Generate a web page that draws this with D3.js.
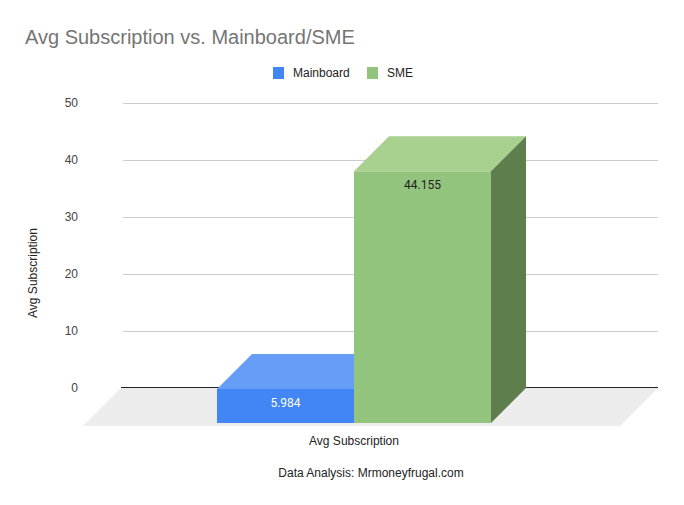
<!DOCTYPE html>
<html>
<head>
<meta charset="utf-8">
<script src="https://cdn.jsdelivr.net/npm/d3@7"></script>
<style>
  body { margin: 0; background: #fff; }
  svg text { font-family: "Liberation Sans", Arial, sans-serif; }
</style>
</head>
<body>
<div id="chart"></div>
<script>
// data
var categories = ["Avg Subscription"]
var seriesNames = ["Mainboard", "SME"]
var seriesValues = [5.984, 44.155]
var yTicks = [0, 10, 20, 30, 40, 50]

var frontColors = ["#4285f4", "#93c47d"]
var topColors = ["#669df6", "#a8d08f"]
var sideColors = ["#3367c7", "#5e7e4d"]
var labelColors = ["#ffffff", "#222222"]

var width = 684, height = 505
var depth = 35
var wall = { left: 123, right: 658, top: 103, bottom: 388 }

var svg = d3.select("#chart")
  .append("svg")
  .attr("width", width)
  .attr("height", height)

// title
svg.append("text")
  .attr("x", 25)
  .attr("y", 44)
  .style("font-size", "20px")
  .style("fill", "#757575")
  .text("Avg Subscription vs. Mainboard/SME")

// legend
var legend = svg.append("g").attr("class", "legend")
var legendX = [273, 367]
seriesNames.forEach(function(name, i) {
  legend.append("rect")
    .attr("x", legendX[i])
    .attr("y", 67)
    .attr("width", 11)
    .attr("height", 12)
    .style("fill", frontColors[i])
  legend.append("text")
    .attr("x", legendX[i] + 20)
    .attr("y", 77)
    .style("font-size", "12px")
    .style("fill", "#222")
    .text(name)
})

// scales (back wall plane)
var yScale = d3.scaleLinear()
  .domain([0, 50])
  .range([wall.bottom, wall.top])

var x0 = d3.scaleBand()
  .domain(categories)
  .range([wall.left - 2, wall.right - 1])
  .paddingOuter(0.478)
  .paddingInner(0)

var x1 = d3.scaleBand()
  .domain(seriesNames)
  .range([0, x0.bandwidth()])
  .padding(0)

// floor
var y0 = yScale(0)
svg.append("polygon")
  .attr("points", [
    [wall.left - 2, y0],
    [wall.right, y0],
    [wall.right - depth - 3, y0 + depth + 3],
    [wall.left - 2 - depth - 3, y0 + depth + 3]
  ].map(p => p.join(",")).join(" "))
  .style("fill", "#ececec")

// grid
var yGrid = d3.axisLeft(yScale)
  .tickValues(yTicks.filter(d => d !== 0))
  .tickSize(-(wall.right - wall.left))
  .tickFormat("")

svg.append("g")
  .attr("class", "grid")
  .attr("transform", `translate(${wall.left},0)`)
  .call(yGrid)
  .call(g => g.select(".domain").remove())
  .selectAll("line")
  .style("stroke", "#cccccc")

// zero line
svg.append("line")
  .attr("x1", wall.left - 2)
  .attr("x2", wall.right)
  .attr("y1", y0 - 0.5)
  .attr("y2", y0 - 0.5)
  .style("stroke", "#222")
  .style("stroke-width", 1)

// y tick labels
var yAxis = d3.axisLeft(yScale)
  .tickValues(yTicks)
  .tickSize(0)
  .tickPadding(0)

svg.append("g")
  .attr("class", "y-axis")
  .attr("transform", "translate(78,0)")
  .call(yAxis)
  .call(g => g.select(".domain").remove())
  .selectAll("text")
  .style("font-family", "'Liberation Sans', Arial, sans-serif")
  .style("font-size", "12px")
  .style("fill", "#444")

// bars
var bars = svg.append("g").attr("class", "bars")
seriesNames.forEach(function(name, i) {
  var v = seriesValues[i]
  var bx = x0(categories[0]) + x1(name)
  var w = x1.bandwidth()
  var ty = yScale(v)
  var pts = a => a.map(p => p.join(",")).join(" ")

  bars.append("rect")
    .attr("x", bx - depth)
    .attr("y", ty + depth)
    .attr("width", w)
    .attr("height", y0 - ty)
    .style("fill", frontColors[i])

  bars.append("polygon")
    .attr("points", pts([[bx - depth, ty + depth], [bx - depth + w, ty + depth], [bx + w, ty], [bx, ty]]))
    .style("fill", topColors[i])

  bars.append("polygon")
    .attr("points", pts([[bx + w - depth, ty + depth], [bx + w, ty], [bx + w, y0], [bx + w - depth, y0 + depth]]))
    .style("fill", sideColors[i])

  bars.append("text")
    .attr("x", bx - depth + w / 2)
    .attr("y", ty + depth + 18)
    .attr("text-anchor", "middle")
    .style("font-family", "Roboto, sans-serif")
    .style("font-size", "12px")
    .style("fill", labelColors[i])
    .text(v)
})

// axis titles
svg.append("text")
  .attr("transform", "translate(37,273) rotate(-90)")
  .attr("text-anchor", "middle")
  .style("font-size", "12px")
  .style("fill", "#222")
  .text("Avg Subscription")

svg.append("text")
  .attr("x", 354)
  .attr("y", 445)
  .attr("text-anchor", "middle")
  .style("font-size", "12px")
  .style("fill", "#222")
  .text(categories[0])

svg.append("text")
  .attr("x", 371)
  .attr("y", 477)
  .attr("text-anchor", "middle")
  .style("font-size", "12px")
  .style("fill", "#222")
  .text("Data Analysis: Mrmoneyfrugal.com")
</script>
</body>
</html>
